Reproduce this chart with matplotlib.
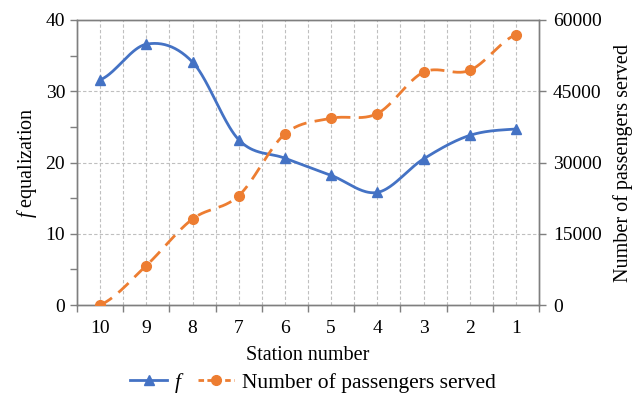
import numpy as np
import matplotlib
matplotlib.use("Agg")
import matplotlib.pyplot as plt
from matplotlib.lines import Line2D

plt.rcParams['font.family'] = ['Liberation Serif', 'DejaVu Serif']
plt.rcParams['mathtext.fontset'] = 'custom'
plt.rcParams['mathtext.it'] = 'Liberation Serif:italic'
plt.rcParams['mathtext.rm'] = 'Liberation Serif'

stations = ['10', '9', '8', '7', '6', '5', '4', '3', '2', '1']
f_values = [31.6, 36.6, 34.1, 23.2, 20.6, 18.2, 15.8, 20.5, 23.8, 24.7]
passengers = [0, 8300, 18100, 23000, 36000, 39300, 40300, 49000, 49400, 56900]

BLUE = '#4472C4'
ORANGE = '#ED7D31'
GRID = '#BFBFBF'
SPINE = '#7F7F7F'


def smooth(y, n=40):
    """Bezier smoothing through every point (like a smoothed line chart)."""
    y = np.asarray(y, float)
    x = np.arange(len(y), dtype=float)
    xs, ys = [], []
    for i in range(len(y) - 1):
        y0 = y[i - 1] if i > 0 else y[i]
        y3 = y[i + 2] if i + 2 < len(y) else y[i + 1]
        y1, y2 = y[i], y[i + 1]
        c1 = y1 + (y2 - y0) / 6.0
        c2 = y2 - (y3 - y1) / 6.0
        t = np.linspace(0, 1, n, endpoint=(i == len(y) - 2))
        by = (1 - t) ** 3 * y1 + 3 * (1 - t) ** 2 * t * c1 + 3 * (1 - t) * t ** 2 * c2 + t ** 3 * y2
        xs.append(x[i] + t)
        ys.append(by)
    return np.concatenate(xs), np.concatenate(ys)


fig = plt.figure(figsize=(6.39, 3.98), dpi=100)
ax = fig.add_axes([77 / 639, 93 / 398, 462 / 639, 285 / 398])
ax2 = ax.twinx()

x = np.arange(len(stations))
ax.set_xlim(-0.5, len(stations) - 0.5)
ax.set_ylim(0, 40)
ax2.set_ylim(0, 60000)

# grid: horizontal at major ticks, vertical at category centres and boundaries
for yv in [10, 20, 30]:
    ax.axhline(yv, color=GRID, lw=0.8, ls=(0, (3, 2)), zorder=0)
for xv in np.arange(-0.5, len(stations), 0.5)[1:-1]:
    ax.axvline(xv, color=GRID, lw=0.8, ls=(0, (3, 2)), zorder=0)

fx, fy = smooth(f_values)
ax.plot(fx, fy, color=BLUE, lw=2.0, zorder=3, solid_capstyle='round')
ax.plot(x, f_values, ls='none', marker='^', ms=7, color=BLUE, zorder=4)

px, py = smooth(passengers)
ax2.plot(px, py, color=ORANGE, lw=2.0, ls=(0, (5, 3)), zorder=3)
ax2.plot(x, passengers, ls='none', marker='o', ms=7, color=ORANGE, zorder=4)

ax.set_xticks(x)
ax.set_xticklabels(stations)
ax.set_xticks(np.arange(-0.5, len(stations), 1.0), minor=True)
ax.tick_params(axis='x', which='major', length=0, pad=11, labelsize=14)
ax.tick_params(axis='x', which='minor', length=5, width=1, color=SPINE, direction='out')

ax.set_yticks([0, 10, 20, 30, 40])
ax.set_yticks([5, 15, 25, 35], minor=True)
ax.tick_params(axis='y', which='both', length=5, width=1, color=SPINE, direction='out', labelsize=14)

ax2.set_yticks([0, 15000, 30000, 45000, 60000])
ax2.tick_params(axis='y', length=5, width=1, color=SPINE, direction='out', labelsize=14, pad=5)

for a in (ax, ax2):
    for s in a.spines.values():
        s.set_color(SPINE)
        s.set_linewidth(1.0)

ax.set_xlabel('Station number', fontsize=14.5, labelpad=6)
ax.set_ylabel('$f$ equalization', fontsize=14.5, labelpad=5)
ax2.set_ylabel('Number of passengers served', fontsize=14.5, labelpad=8)

handles = [
    Line2D([], [], color=BLUE, lw=2.0, marker='^', ms=7),
    Line2D([], [], color=ORANGE, lw=2.0, ls=(0, (2, 1.2)), marker='o', ms=7),
]
fig.legend(handles, ['$f$', 'Number of passengers served'], loc='center',
           bbox_to_anchor=(0.49, 1 - 383 / 398), ncol=2, frameon=False,
           fontsize=15.5, handlelength=1.7, columnspacing=0.6, handletextpad=0.35,
           borderpad=0.1)

fig.savefig('out.png', dpi=100)
